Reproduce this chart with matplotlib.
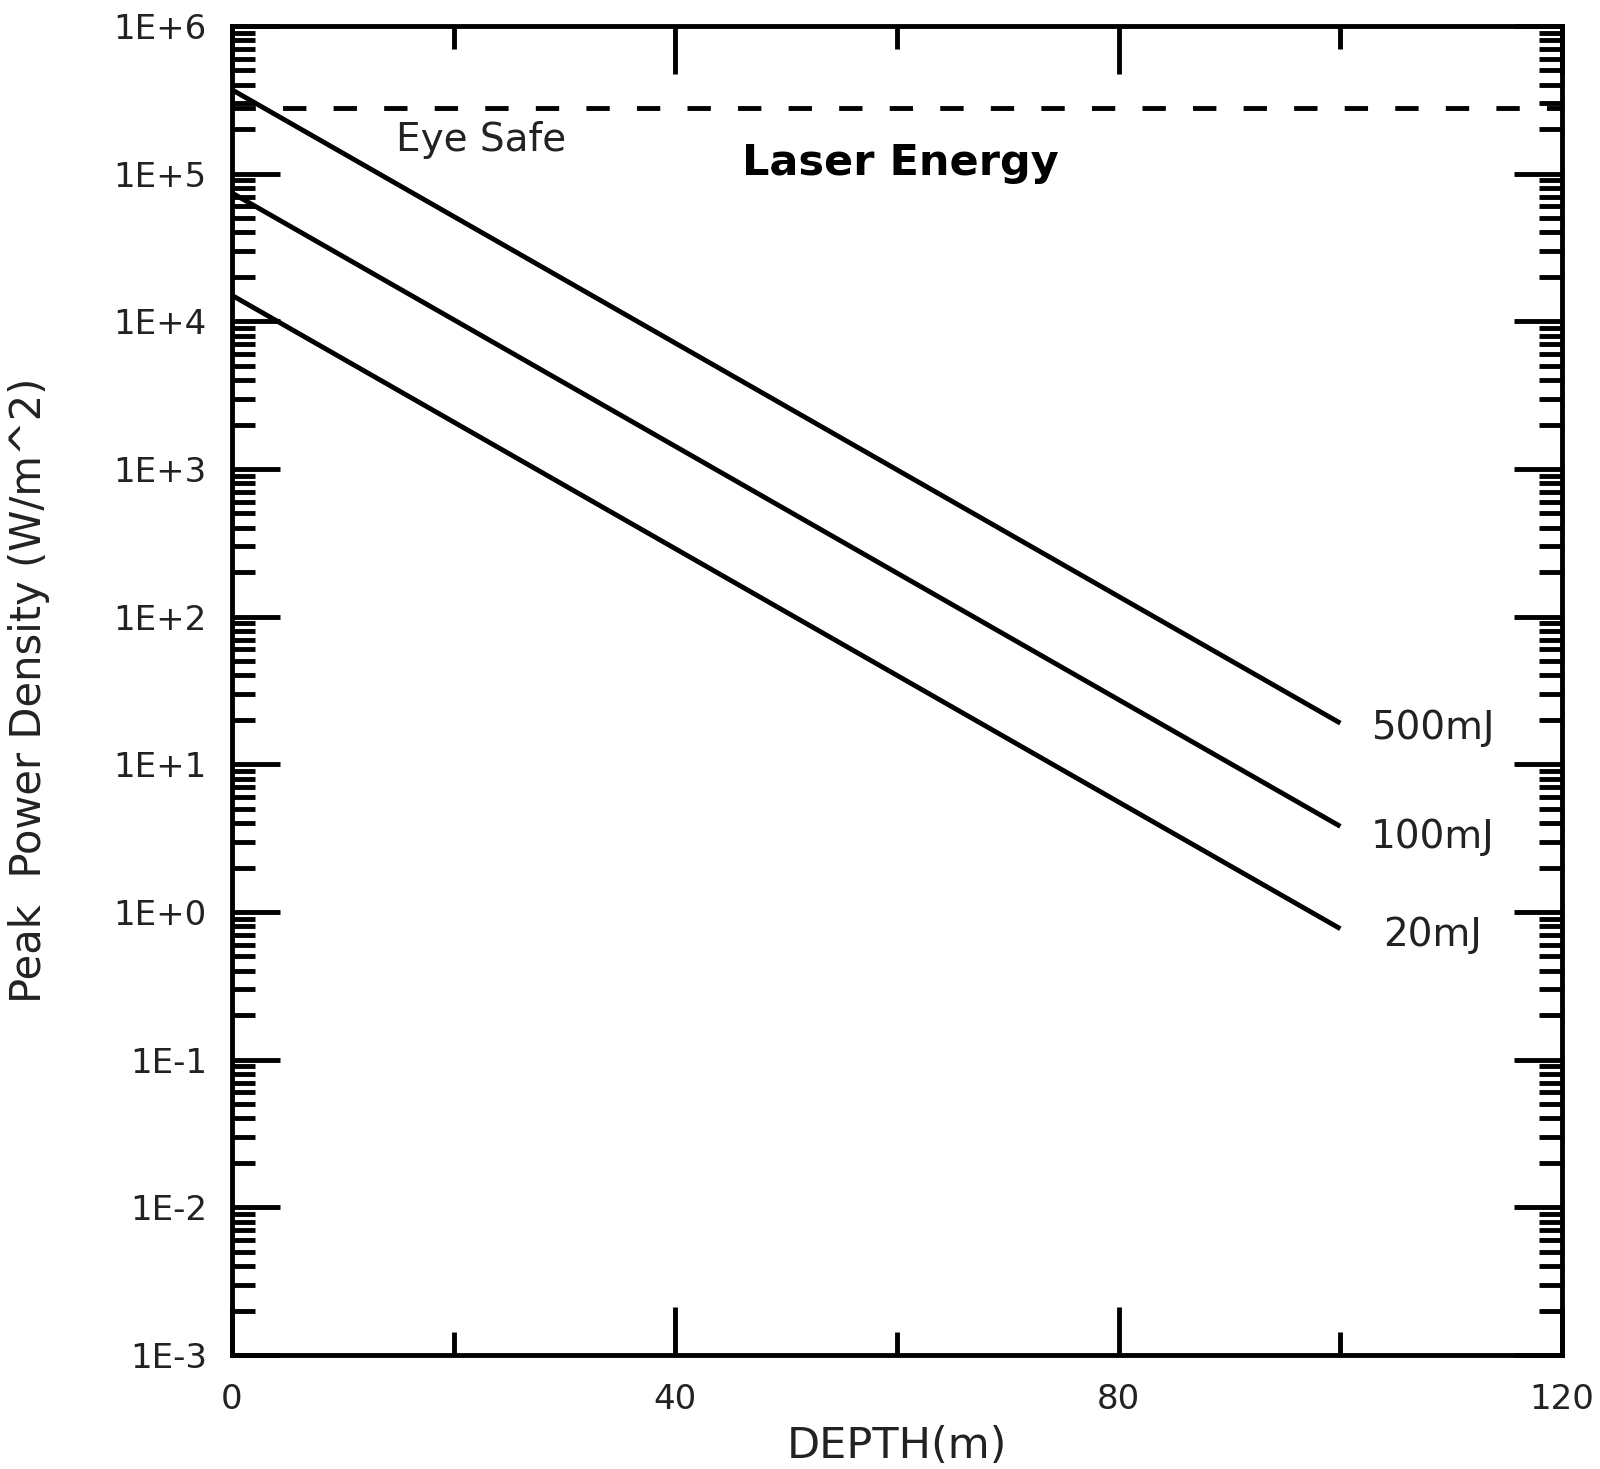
"""
Peak power density vs depth for three laser pulse energies (log scale)
"""

import matplotlib.pyplot as plt
from matplotlib.ticker import FixedLocator, LogLocator, NullFormatter

# Data
depth = [0, 100]
energy_labels = ['500mJ', '100mJ', '20mJ']
power_500 = [3.7e5, 19.0]
power_100 = [7.4e4, 3.8]
power_20 = [1.5e4, 0.77]
eye_safe_level = 2.8e5

y_ticks = [1e-3, 1e-2, 1e-1, 1e0, 1e1, 1e2, 1e3, 1e4, 1e5, 1e6]
y_tick_labels = ['1E-3', '1E-2', '1E-1', '1E+0', '1E+1', '1E+2', '1E+3',
                 '1E+4', '1E+5', '1E+6']
x_ticks = [0, 40, 80, 120]
x_minor_ticks = [20, 60, 100]


def main():
    plt.rcParams['font.family'] = ['DejaVu Sans']
    fig = plt.figure(figsize=(16, 14.69), dpi=100)
    ax = fig.add_axes([0.145, 0.0776, 0.83125, 0.9047])

    lw = 3.5
    for vals in (power_500, power_100, power_20):
        ax.plot(depth, vals, color='black', lw=lw, solid_capstyle='butt')
    ax.axhline(eye_safe_level, color='black', lw=lw,
               dashes=(4.8, 5.6), dash_capstyle='butt')

    ax.set_yscale('log')
    ax.set_xlim(0, 120)
    ax.set_ylim(1e-3, 1e6)

    ax.yaxis.set_major_locator(FixedLocator(y_ticks))
    ax.set_yticklabels(y_tick_labels)
    ax.yaxis.set_minor_locator(LogLocator(base=10, subs=range(2, 10),
                                          numticks=100))
    ax.yaxis.set_minor_formatter(NullFormatter())
    ax.xaxis.set_major_locator(FixedLocator(x_ticks))
    ax.xaxis.set_minor_locator(FixedLocator(x_minor_ticks))

    ax.tick_params(which='both', direction='in', top=True, right=True,
                   width=lw, color='black')
    ax.tick_params(which='major', length=34.5, labelsize=24.5,
                   labelcolor='#222222')
    ax.tick_params(axis='y', which='major', pad=18)
    ax.tick_params(axis='x', which='major', pad=20)
    ax.tick_params(which='minor', length=16.5)
    for sp in ax.spines.values():
        sp.set_linewidth(lw)

    ax.set_xlabel('DEPTH(m)', fontsize=31, color='#222222')
    ax.set_ylabel('Peak  Power Density (W/m^2)', fontsize=30,
                  color='#222222')
    ax.yaxis.set_label_coords(-0.137, 0.5)
    ax.xaxis.set_label_coords(0.5, -0.053)

    # Annotations
    ax.text(22.5, 1.69e5, 'Eye Safe', fontsize=28, color='#222222',
            ha='center', va='center')
    ax.text(60.3, 1.18e5, 'Laser Energy', fontsize=31, fontweight='bold',
            ha='center', va='center')
    label_pos = [17.7, 3.23, 0.70]
    for lab, yv in zip(energy_labels, label_pos):
        ax.text(108.3, yv, lab, fontsize=28, color='#222222',
                ha='center', va='center')

    fig.savefig('out.png', dpi=100)


if __name__ == '__main__':
    main()
